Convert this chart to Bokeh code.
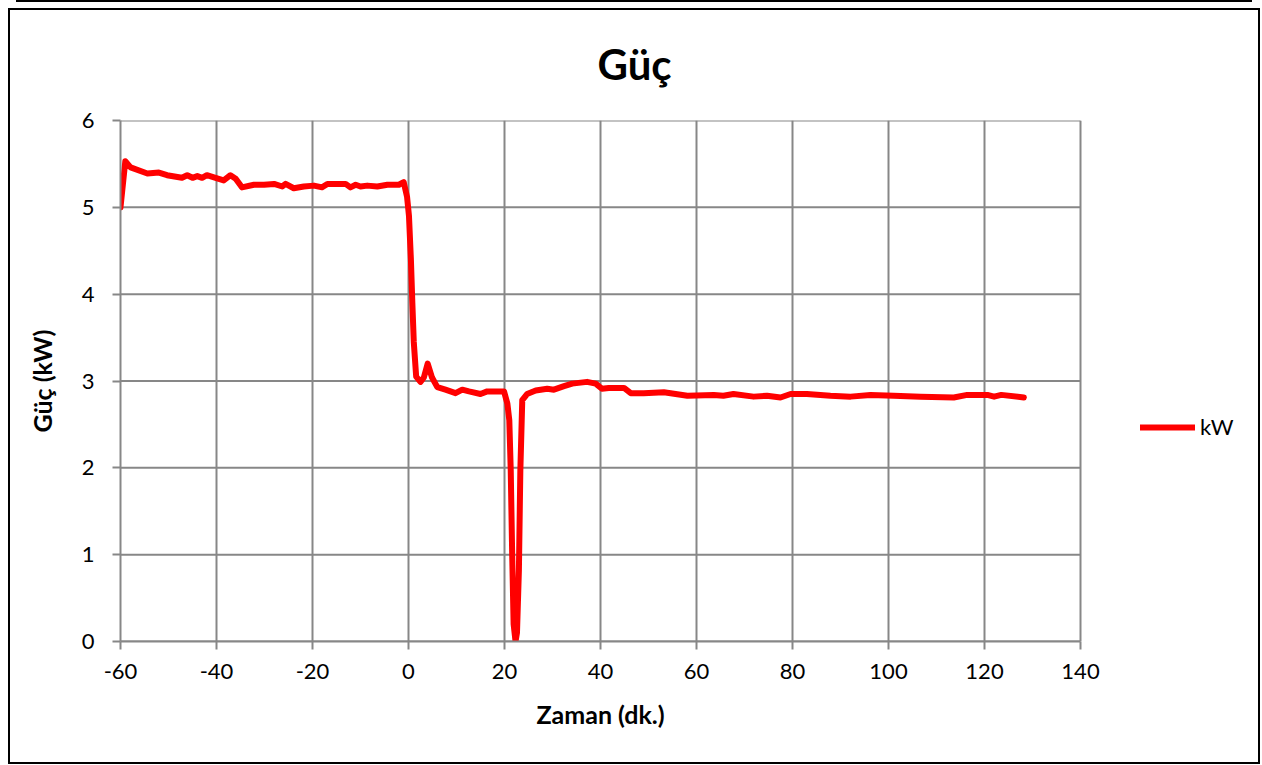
from bokeh.plotting import figure
from bokeh.models import Range1d, FixedTicker, Legend, LegendItem, Title, PrintfTickFormatter
from bokeh.embed import file_html
from bokeh.resources import INLINE

time_min = [-60, -59, -57.9, -54.4, -52, -50.3, -47.2, -46.1, -45, -44, -43, -42, -40.2,
            -38.5, -37.1, -36, -34.7, -32.2, -30.1, -28, -26.3, -25.6, -23.9, -21.8, -19.7,
            -18, -16.9, -13.1, -12.1, -11, -10, -8.6, -6.5, -4.4, -2.0, -1.0, -0.3, 0.1,
            0.5, 0.8, 1.1, 1.6, 2.5, 3.2, 4.0, 4.9, 6.0, 7.7, 9.8, 11.2, 12.6, 15, 16.4,
            19.9, 20.6, 21.0, 21.3, 21.6, 21.9, 22.3, 22.6, 23.0, 23.3, 23.7, 24.7, 26.5,
            28.9, 30.3, 32.4, 34.1, 37.2, 39, 40.3, 41.7, 43.5, 44.9, 46.3, 49, 53.2, 58.1,
            63.6, 65.6, 67.7, 71.9, 74.7, 77.5, 79.6, 83, 87.9, 92.1, 96.25, 101.1, 106.7,
            113.6, 116.4, 120.6, 122.0, 123.5, 128.2]
power_kw = [5.0, 5.53, 5.46, 5.39, 5.40, 5.37, 5.34, 5.37, 5.34, 5.36, 5.34, 5.37, 5.34,
            5.31, 5.37, 5.33, 5.23, 5.26, 5.26, 5.27, 5.24, 5.27, 5.22, 5.24, 5.25,
            5.23, 5.27, 5.27, 5.23, 5.26, 5.24, 5.25, 5.24, 5.26, 5.26, 5.29, 5.12, 4.9,
            4.4, 3.9, 3.45, 3.05, 2.99, 3.04, 3.20, 3.04, 2.93, 2.90, 2.86, 2.90, 2.88, 2.85, 2.88,
            2.88, 2.74, 2.55, 1.97, 1.0, 0.2, 0.0, 0.1, 0.82, 1.97, 2.78, 2.85, 2.89,
            2.91, 2.90, 2.94, 2.97, 2.99, 2.97, 2.91, 2.92, 2.92, 2.92, 2.86, 2.86, 2.87, 2.83,
            2.84, 2.83, 2.85, 2.82, 2.83, 2.81, 2.85, 2.85, 2.83, 2.82, 2.84, 2.83, 2.82,
            2.81, 2.84, 2.84, 2.82, 2.84, 2.81]

x_ticks = [-60, -40, -20, 0, 20, 40, 60, 80, 100, 120, 140]
y_ticks = [0, 1, 2, 3, 4, 5, 6]
X_MIN, X_MAX = -60, 140
Y_MIN, Y_MAX = 0, 6

FONT = "Lato"
GRID = "#878787"

W, H = 1252, 761
LEFT, TOP, BOTTOM = 112, 117, 123
PLOT_PX = 960  # pixel width of the -60..140 span
frame_w = W - LEFT
x_end = X_MIN + (X_MAX - X_MIN) * frame_w / PLOT_PX

p = figure(width=W, height=H, output_backend="svg", toolbar_location=None,
           x_range=Range1d(X_MIN, x_end), y_range=Range1d(Y_MIN, Y_MAX),
           min_border_left=LEFT, min_border_right=0, min_border_top=TOP, min_border_bottom=BOTTOM)
p.border_fill_alpha = 0
p.background_fill_alpha = 0
p.styles = {"margin": "3px 0 0 8px",
            "box-shadow": ("inset 0 5px 0 0 white, inset 0 7px 0 0 black, "
                           "inset 2px 0 0 0 black, inset -2px 0 0 0 black, "
                           "inset 0 -2px 0 0 black, "
                           "0 -1px 0 0 white, 0 -11px 0 -8px black")}
p.outline_line_color = None

p.title = Title(text="Güç", align="left", offset=477, standoff=64,
                text_font=FONT, text_font_size="42px", text_font_style="bold", text_color="black")

# horizontal grid lines limited to the plot span
p.ygrid.visible = False
p.segment(x0=[X_MIN] * len(y_ticks), x1=[X_MAX] * len(y_ticks), y0=y_ticks, y1=y_ticks,
          line_color=GRID, line_width=2)

r = p.line(time_min, power_kw, line_color="#ff0000", line_width=6,
           line_join="round", line_cap="round")

p.xaxis.ticker = FixedTicker(ticks=x_ticks)
p.yaxis.ticker = FixedTicker(ticks=y_ticks)
p.xgrid.ticker = FixedTicker(ticks=x_ticks)
p.xgrid.bounds = (X_MIN, X_MAX)
p.xaxis.bounds = (X_MIN, X_MAX)
p.xaxis.formatter = PrintfTickFormatter(format="%d")
p.yaxis.formatter = PrintfTickFormatter(format="%d")
p.xgrid.grid_line_color = GRID
p.xgrid.grid_line_width = 2

for ax in (p.xaxis, p.yaxis):
    ax.axis_line_color = GRID
    ax.axis_line_width = 2
    ax.major_tick_line_color = GRID
    ax.major_tick_line_width = 2
    ax.major_tick_out = 8
    ax.major_tick_in = 0
    ax.minor_tick_line_color = None
    ax.major_label_text_font = FONT
    ax.major_label_text_font_size = "22px"
    ax.major_label_text_color = "black"
    ax.axis_label_text_font = FONT
    ax.axis_label_text_font_size = "25px"
    ax.axis_label_text_font_style = "bold"
    ax.axis_label_text_color = "black"

p.yaxis.axis_label = "Güç (kW)"
p.xaxis.major_label_standoff = 14
p.yaxis.major_label_standoff = 18
p.yaxis.axis_label_standoff = 22

xlabel = Title(text="Zaman (dk.)", align="left", offset=416, standoff=30,
               text_font=FONT, text_font_size="25px", text_font_style="bold", text_color="black")
p.add_layout(xlabel, "below")

legend = Legend(items=[LegendItem(label="kW", renderers=[r])], location=(1020, 201),
                glyph_width=55, glyph_height=20, label_standoff=5, padding=0, margin=0,
                border_line_color=None, background_fill_alpha=0,
                label_text_font=FONT, label_text_font_size="22px", label_text_color="black")
p.add_layout(legend, "center")

open("out.html", "w").write(file_html(p, INLINE))
